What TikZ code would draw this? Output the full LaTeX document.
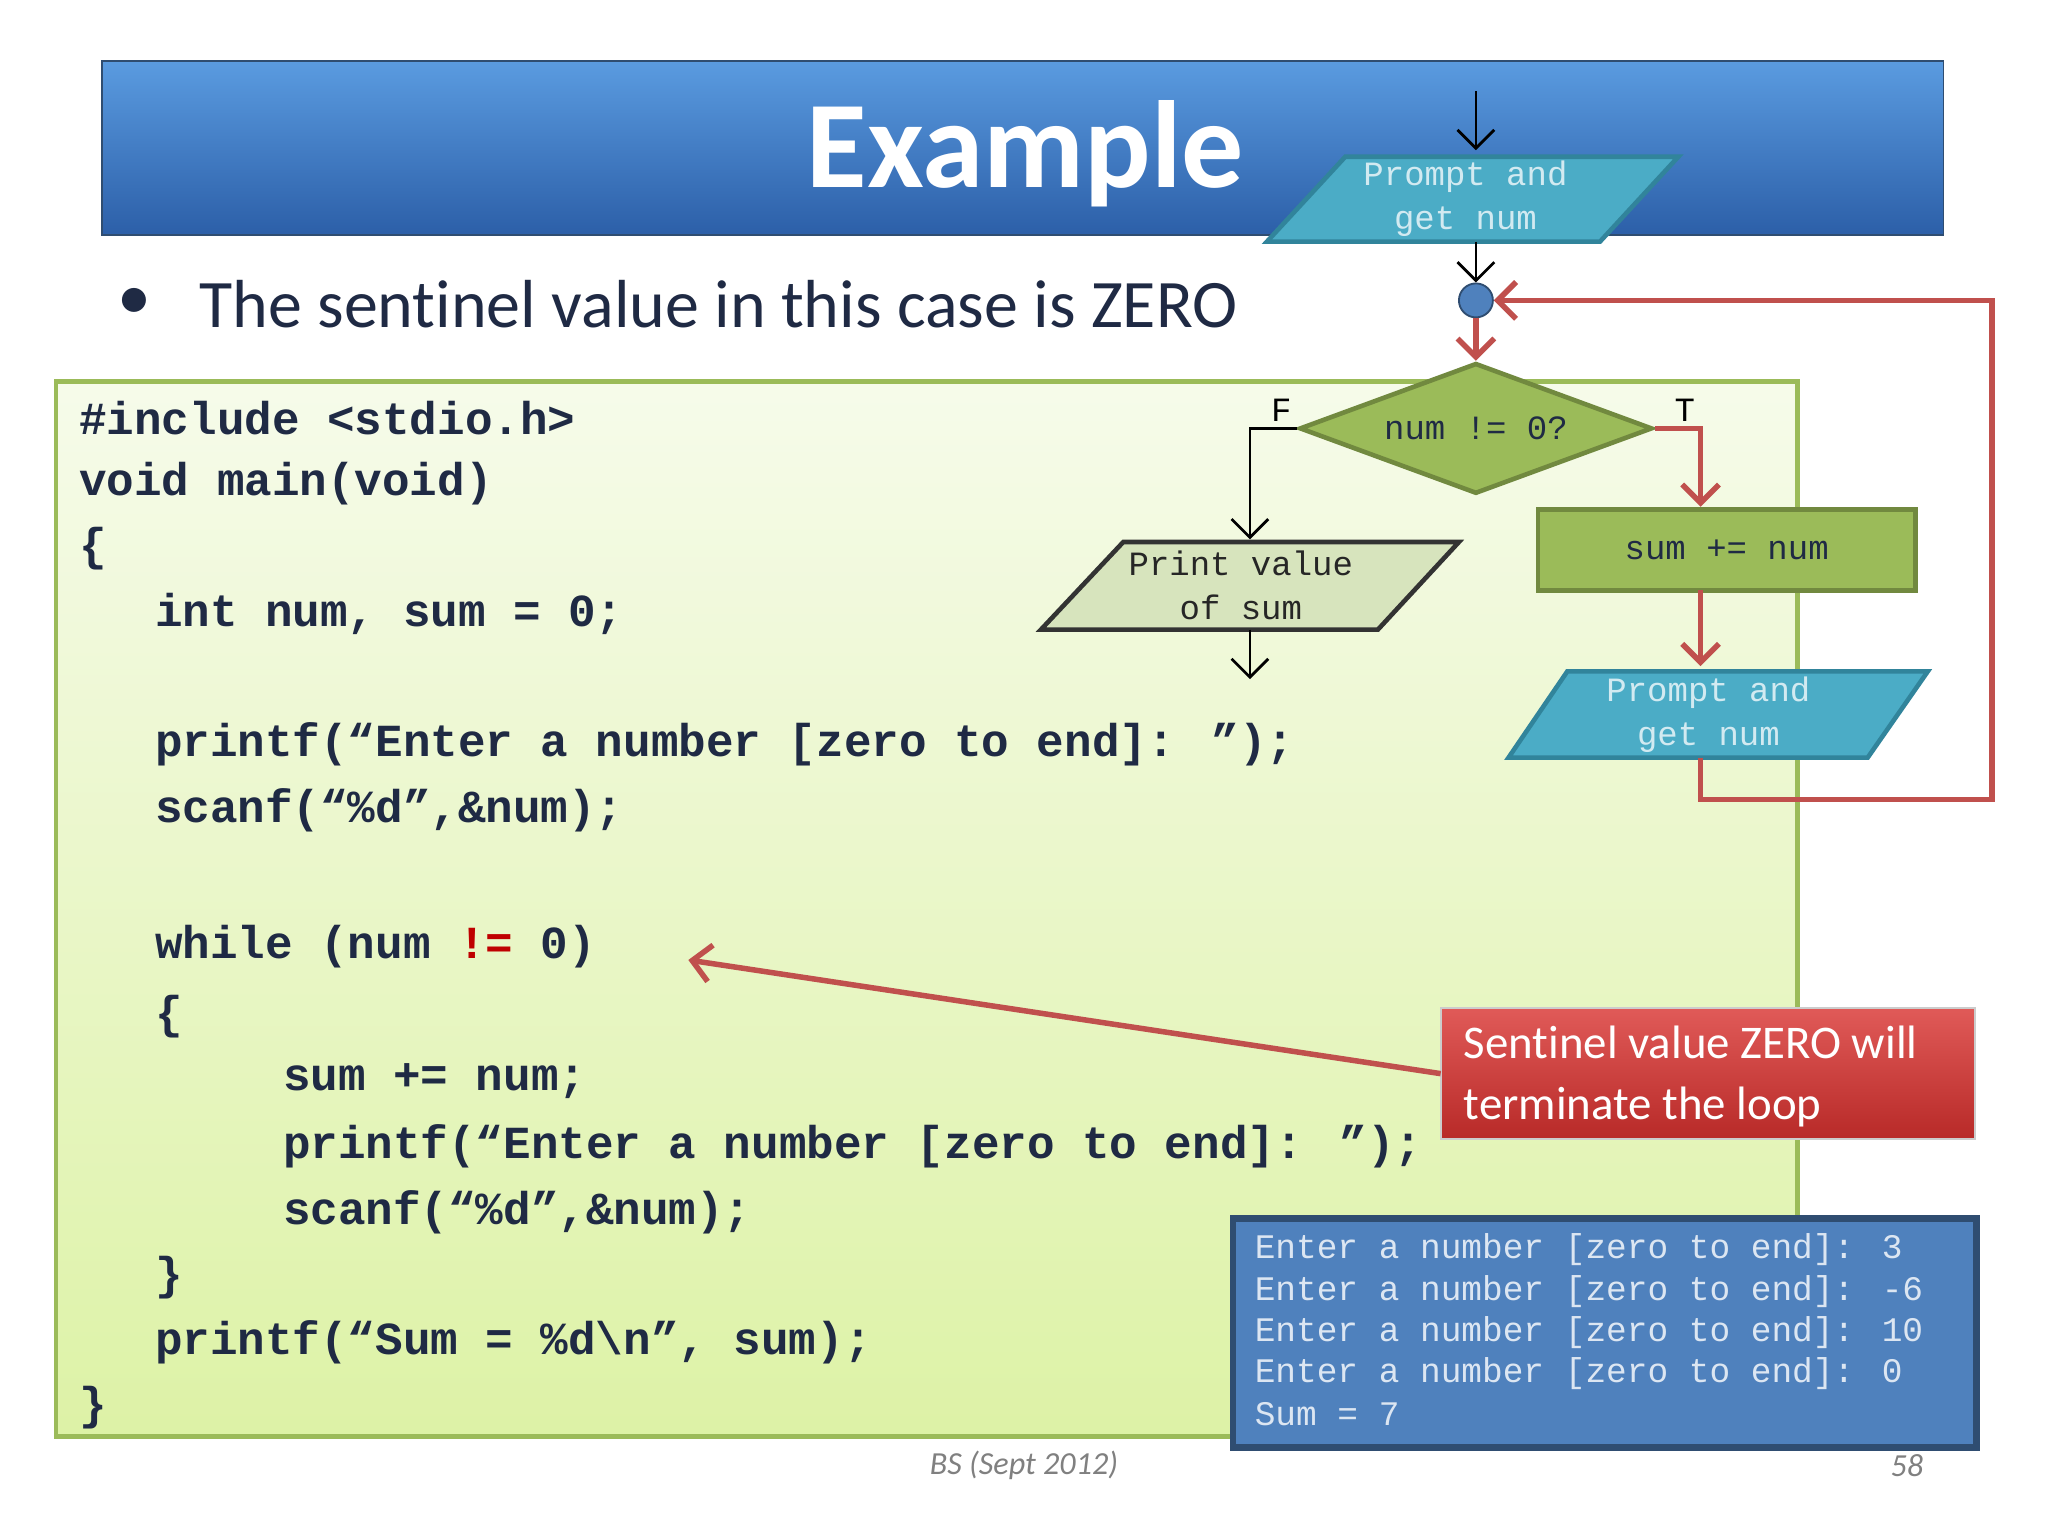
\documentclass[tikz,border=0pt]{standalone}
\usepackage{fontspec}
\setmainfont[Ligatures=NoCommon]{Carlito}
\newfontfamily\codefont{Liberation Mono}
\usetikzlibrary{shapes.geometric,arrows.meta}
\definecolor{navy}{HTML}{1F2A44}
\definecolor{tblue}{HTML}{4F81BD}
\definecolor{teal1}{HTML}{4BACC6}
\definecolor{teal2}{HTML}{31849B}
\definecolor{olive}{HTML}{9BBB59}
\definecolor{olived}{HTML}{71893F}
\definecolor{redl}{HTML}{C0504D}
\definecolor{titletop}{HTML}{5A9BE0}
\definecolor{titlebot}{HTML}{2C5FA8}
\definecolor{codetop}{HTML}{F6FBEA}
\definecolor{codebot}{HTML}{DDF2A6}
\definecolor{calltop}{HTML}{E05A58}
\definecolor{callbot}{HTML}{B82A28}
\begin{document}
\begin{tikzpicture}[x=0.01cm,y=-0.01cm,
  code/.style={anchor=west,text=navy,font=\codefont\bfseries\fontsize{10}{12}\selectfont,inner sep=0pt},
  fc/.style={font=\codefont\fontsize{7.4}{9.6}\selectfont,align=center},
  arr/.style={-{Straight Barb[length=4pt]},line width=0.6pt},
  rarr/.style={-{Straight Barb[length=4pt]},line width=1.2pt,draw=redl},
  outl/.style={anchor=west,inner sep=0pt,text=white!80!tblue,font=\codefont\fontsize{7.5}{9}\selectfont}]
\fill[white] (0,0) rectangle (1568,1176);
\useasboundingbox (0,0) rectangle (1568,1176);
% title
\shade[top color=titletop,bottom color=titlebot,draw=tblue!60!black] (78,47) rectangle (1488,180);
\node[text=white,font=\bfseries\fontsize{27}{30}\selectfont] (title) at (785,118) {Example};
\node[text=navy,font=\fontsize{14.8}{16}\selectfont] (bul) at (103,233) {•};
\node[anchor=west,text=navy,font=\fontsize{14.8}{16}\selectfont,inner sep=0pt] (bt) at (152,233) {The sentinel value in this case is ZERO};
% code box
\shade[top color=codetop,bottom color=codebot,draw=olive,line width=1pt] (43,292) rectangle (1376,1100);
\node[code] (c1) at (60,320) {\#include <stdio.h>};
\node[code] (c2) at (60,370) {void main(void)};
\node[code] (c3) at (60,420) {\{};
\node[code] (c4) at (118,470) {int num, sum = 0;};
\node[code] (c5) at (118,570) {printf(“Enter a number [zero to end]: ”);};
\node[code] (c6) at (118,620) {scanf(“\%d”,\&num);};
\node[code] (c7) at (118,725) {while (num \textcolor{red!75!black}{!=} 0)};
\node[code] (c8) at (118,778) {\{};
\node[code] (c9) at (216,828) {sum += num;};
\node[code] (c10) at (216,878) {printf(“Enter a number [zero to end]: ”);};
\node[code] (c11) at (216,928) {scanf(“\%d”,\&num);};
\node[code] (c12) at (118,978) {\}};
\node[code] (c13) at (118,1028) {printf(“Sum = \%d\textbackslash n”, sum);};
\node[code] (c14) at (60,1078) {\}};
% flowchart
\coordinate (top) at (1130,70);
\filldraw[fill=teal1,draw=teal2,line width=1pt] (970,185) -- (1030,120) -- (1285,120) -- (1225,185) -- cycle;
\node[fc,text=white!75!teal1] (p1) at (1122,152) {Prompt and\\get num};
\coordinate (p1t) at (1130,115);
\coordinate (p1b) at (1130,185);
\draw[arr] (top) -- (p1t);
\node[circle,fill=tblue,draw=tblue!60!black,inner sep=0pt,minimum size=0.26cm] (jn) at (1130,230) {};
\draw[arr] (p1b) -- (jn.north);
\node[diamond,fill=olive,draw=olived,line width=1pt,minimum width=2.7cm,minimum height=1cm,inner sep=0pt,aspect=2.7] (dec) at (1130,328) {};
\node[fc,text=navy] (dect) at (1130,328) {num != 0?};
\draw[rarr] (jn.south) -- (dec.north);
\node[fc] (F) at (981,314) {F};
\node[fc] (T) at (1290,314) {T};
\coordinate (pvt) at (957,413);
\draw[arr] (dec.west) -| (pvt);
\filldraw[fill=olive!40!white,draw=black!80,line width=1pt] (797,482) -- (860,415) -- (1117,415) -- (1055,482) -- cycle;
\node[fc,text=black!85] (pv) at (950,448) {Print value\\of sum};
\coordinate (pvb) at (957,482);
\coordinate (pve) at (957,520);
\draw[arr] (pvb) -- (pve);
\node[rectangle,fill=olive,draw=olived,line width=1pt,minimum width=2.89cm,minimum height=0.62cm] (sum) at (1322,421) {};
\node[fc,text=navy] (sumt) at (1322,421) {sum += num};
\draw[rarr] (dec.east) -| (1302,388);
\coordinate (sb) at (1302,452);
\coordinate (p2t) at (1302,510);
\draw[rarr] (sb) -- (p2t);
\filldraw[fill=teal1,draw=teal2,line width=1pt] (1155,580) -- (1200,514) -- (1476,514) -- (1430,580) -- cycle;
\node[fc,text=white!75!teal1] (p2) at (1308,547) {Prompt and\\get num};
\coordinate (p2b) at (1302,580);
\draw[rarr] (p2b) -- (1302,612) -- (1525,612) -- (1525,230) -- (jn.east);
% callout
\shade[top color=calltop,bottom color=callbot,draw=white!80!black] (1103,772) rectangle (1512,872);
\node[anchor=west,text=white,font=\fontsize{10.2}{12}\selectfont,align=left,inner sep=0pt] (call) at (1120,824) {Sentinel value ZERO will\\[1.2pt]terminate the loop};
\coordinate (cl) at (1103,822);
\coordinate (wh) at (527,735);
\draw[rarr] (cl) -- (wh);
% output
\filldraw[fill=tblue,draw=tblue!60!black,line width=1.5pt] (944,933) rectangle (1513,1108);
\node[outl] (o1) at (960,957) {Enter a number [zero to end]: 3};
\node[outl] (o2) at (960,989) {Enter a number [zero to end]: -6};
\node[outl] (o3) at (960,1020) {Enter a number [zero to end]: 10};
\node[outl] (o4) at (960,1052) {Enter a number [zero to end]: 0};
\node[outl] (o5) at (960,1083) {Sum = 7};
% footer
\node[text=black!50,font=\itshape\fontsize{7}{8}\selectfont] (ft) at (784,1122) {BS (Sept 2012)};
\node[text=black!50,font=\itshape\fontsize{7}{8}\selectfont] (pg) at (1460,1122) {58};
\end{tikzpicture}
\end{document}
